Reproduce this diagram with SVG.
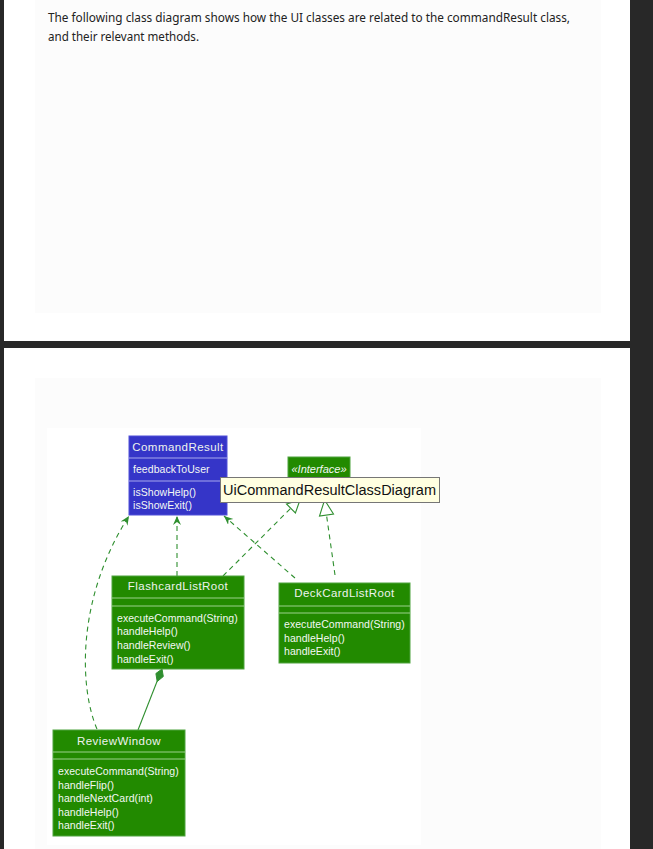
<svg xmlns="http://www.w3.org/2000/svg" width="653" height="849" viewBox="0 0 653 849">
  <style>
    .intro { font-family: "Noto Sans", "Liberation Sans", sans-serif; font-size: 12.5px; fill: #222; }
    .title { font-family: "Liberation Sans", Arial, sans-serif; font-size: 11.5px; fill: #eef3ee; text-anchor: middle; letter-spacing: 0.45px; }
    .member { font-family: "Liberation Sans", Arial, sans-serif; font-size: 10.5px; fill: #f4f8f4; letter-spacing: 0.05px; }
    .green { fill: #228a00; stroke: #4fa33f; stroke-width: 1; }
    .blue { fill: #3535c8; stroke: #5050d8; stroke-width: 1; }
    .gsep { stroke: #9bd18c; stroke-width: 1; }
    .bsep { stroke: #a8a8ee; stroke-width: 1; }
    .dep { fill: none; stroke: #2f8f2f; stroke-width: 1.1; stroke-dasharray: 5 4; }
    .solid { fill: none; stroke: #2f8f2f; stroke-width: 1.1; }
    .tri { fill: #ffffff; stroke: #2f8f2f; stroke-width: 1.1; }
  </style>
  <defs>
    <marker id="open" markerUnits="userSpaceOnUse" markerWidth="12" markerHeight="10" refX="9" refY="4" orient="auto">
      <polygon points="0,0 9,4 0,8 3,4" fill="#2f8f2f"/>
    </marker>
  </defs>

  <!-- page frame -->
  <rect x="0" y="0" width="653" height="849" fill="#282828"/>
  <rect x="4" y="0" width="626" height="341" fill="#ffffff"/>
  <rect x="4" y="348" width="626" height="501" fill="#ffffff"/>
  <rect x="35" y="0" width="566" height="313" fill="#fcfcfc"/>
  <rect x="35" y="378" width="566" height="471" fill="#fcfcfc"/>

  <!-- intro text -->
  <text class="intro" x="48" y="22" textLength="522" lengthAdjust="spacingAndGlyphs">The following class diagram shows how the UI classes are related to the commandResult class,</text>
  <text class="intro" x="48" y="41" textLength="151" lengthAdjust="spacingAndGlyphs">and their relevant methods.</text>

  <!-- diagram canvas -->
  <rect x="47" y="428" width="374" height="417" fill="#ffffff"/>

  <!-- connectors -->
  <g id="connectors">
    <path class="dep" d="M97,729 C80,690 75,600 129,516" marker-end="url(#open)"/>
    <path class="dep" d="M177,576 L177,516" marker-end="url(#open)"/>
    <path class="dep" d="M295,578 L224,516" marker-end="url(#open)"/>
    <path class="dep" d="M223,576 L291,508"/>
    <polygon class="tri" points="300,500 295.4,513 286.5,504"/>
    <path class="dep" d="M335,575 L326.5,515"/>
    <polygon class="tri" points="324.6,500 333.5,514 319.5,516"/>
    <path class="solid" d="M157.2,681 L138,730"/>
    <polygon points="162,669 163.3,676.5 157.2,681.5 155.9,673.5" fill="#2f8f2f" stroke="#2f8f2f" stroke-width="1"/>
  </g>

  <!-- CommandResult -->
  <g id="CommandResult">
    <rect class="blue" x="129" y="436" width="98" height="79"/>
    <text class="title" x="178" y="451">CommandResult</text>
    <line class="bsep" x1="129" y1="458" x2="227" y2="458"/>
    <text class="member" x="133" y="473">feedbackToUser</text>
    <line class="bsep" x1="129" y1="481" x2="227" y2="481"/>
    <text class="member" x="133" y="496">isShowHelp()</text>
    <text class="member" x="133" y="509">isShowExit()</text>
  </g>

  <!-- Interface -->
  <g id="Interface">
    <rect class="green" x="288" y="457" width="62" height="43"/>
    <text x="319" y="473" font-family="Liberation Sans, Arial, sans-serif" font-size="11" font-style="italic" fill="#f4f8f4" text-anchor="middle">«Interface»</text>
  </g>

  <!-- hover label -->
  <g id="tooltip">
    <rect x="220.5" y="477.5" width="219" height="25" fill="#ffffe1" stroke="#767676" stroke-width="1"/>
    <text x="223" y="495" font-family="Liberation Sans, Arial, sans-serif" font-size="14" fill="#111" textLength="213" lengthAdjust="spacingAndGlyphs">UiCommandResultClassDiagram</text>
  </g>

  <!-- FlashcardListRoot -->
  <g id="FlashcardListRoot">
    <rect class="green" x="112" y="576" width="132" height="93"/>
    <text class="title" x="178" y="590">FlashcardListRoot</text>
    <line class="gsep" x1="112" y1="598" x2="244" y2="598"/>
    <line class="gsep" x1="112" y1="606" x2="244" y2="606"/>
    <text class="member" x="117" y="622">executeCommand(String)</text>
    <text class="member" x="117" y="635">handleHelp()</text>
    <text class="member" x="117" y="649">handleReview()</text>
    <text class="member" x="117" y="663">handleExit()</text>
  </g>

  <!-- DeckCardListRoot -->
  <g id="DeckCardListRoot">
    <rect class="green" x="279" y="583" width="131" height="80"/>
    <text class="title" x="344.5" y="597">DeckCardListRoot</text>
    <line class="gsep" x1="279" y1="606" x2="410" y2="606"/>
    <line class="gsep" x1="279" y1="613" x2="410" y2="613"/>
    <text class="member" x="284" y="628">executeCommand(String)</text>
    <text class="member" x="284" y="642">handleHelp()</text>
    <text class="member" x="284" y="655">handleExit()</text>
  </g>

  <!-- ReviewWindow -->
  <g id="ReviewWindow">
    <rect class="green" x="53" y="730" width="132" height="106"/>
    <text class="title" x="119" y="745">ReviewWindow</text>
    <line class="gsep" x1="53" y1="752" x2="185" y2="752"/>
    <line class="gsep" x1="53" y1="759" x2="185" y2="759"/>
    <text class="member" x="58" y="775">executeCommand(String)</text>
    <text class="member" x="58" y="789">handleFlip()</text>
    <text class="member" x="58" y="802">handleNextCard(int)</text>
    <text class="member" x="58" y="816">handleHelp()</text>
    <text class="member" x="58" y="829">handleExit()</text>
  </g>
</svg>
